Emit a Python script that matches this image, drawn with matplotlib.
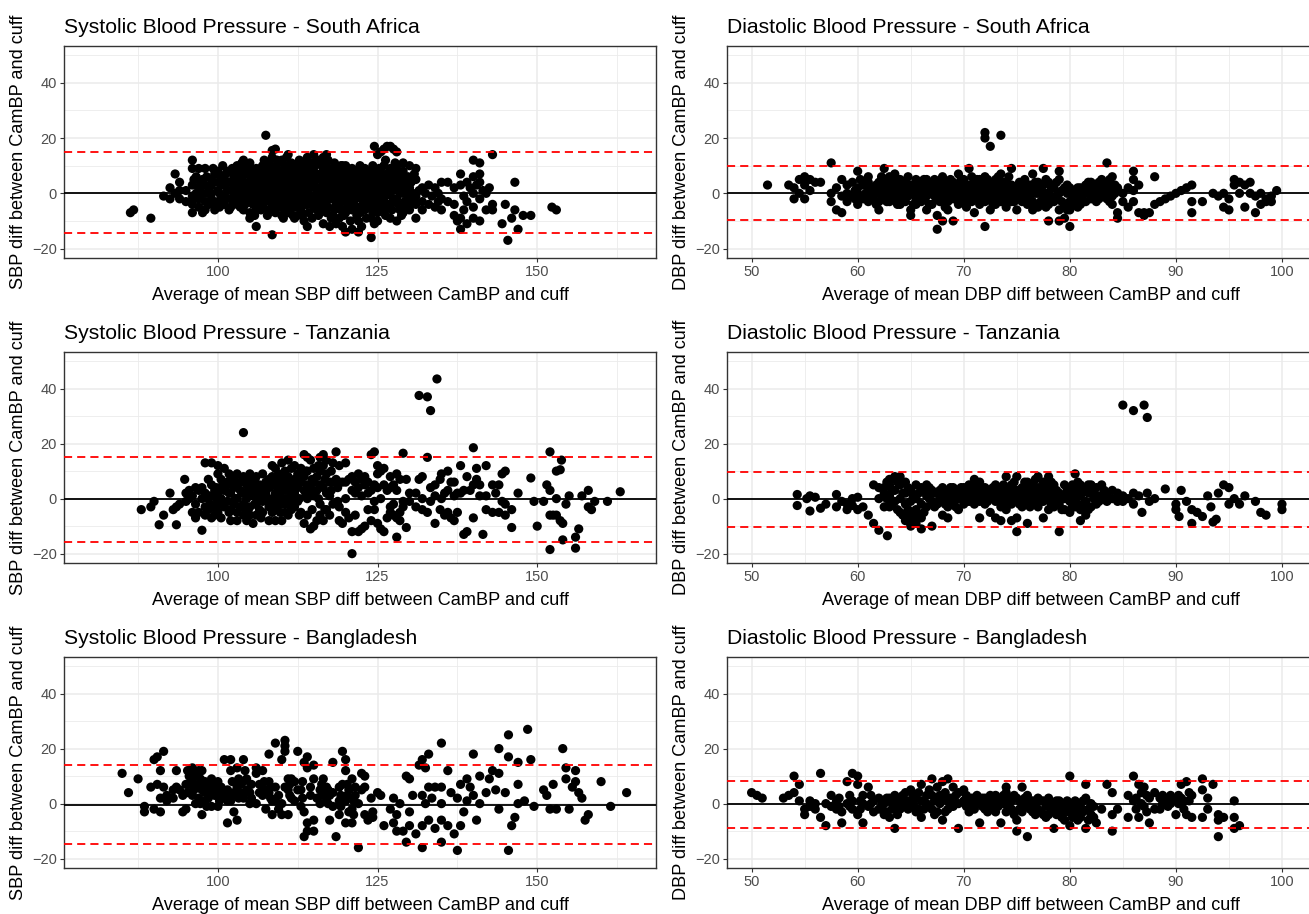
import numpy as np
import matplotlib
matplotlib.use("Agg")
import matplotlib.pyplot as plt

# Bland-Altman style panels: (average, [differences at that average])
sbp_sa = [
    (86.3, [-7]), (86.8, [-6]), (89.5, [-9]), (91.5, [-1]), (92.5, [2, -2]), (93.3, [7, 0]), (94, [1, -2, 4]), (95, [-3, 1]),
    (96, [12, 9, 3, -1, -4, -7]), (96.6, [6, 0]), (97, [9, 2, -2, -5]), (97.6, [5, -7, 0]), (98, [9, 3, -3, -6]), (98.6, [1, -4]),
    (99, [3, 0, -2, 5]), (99.5, [-6, 7]), (100, [8, 4, 1, -3]), (100.5, [6, -2]), (101, [3, -1, 5, -4]), (101.5, [1, 8]),
    (102, [8, 4, -2, -5]), (102.5, [0, 6, 2]), (103, [10, 6, 2, -1, -4]), (103.5, [3, -5, 8]), (104, [12, 9, 4, 0, -3, -6]),
    (104.5, [7, 1]), (105, [11, 7, 3, -2, -7, -9]), (105.5, [1, 5, -4]), (106, [9, 5, 1, -4, -12, -6]), (106.5, [3, -1, 7]),
    (107, [10, 6, 2, -1, -5]), (107.5, [21, 4, 8, 0, -3]), (108, [11, 7, 3, -2, -6]), (108.5, [-15, 15.5, 13, 1, 5, -4, 9]),
    (109, [16, 9, 4, 0, -3, -7]), (109.5, [2, 6, -1, 11]), (110, [12, 8, 3, -1, -4, -8]), (110.5, [1, 5, -6, 10]),
    (111, [14, 8, 4, 0, -3, -7]), (111.5, [2, 6, -2, 11]), (112, [10, 6, 2, -2, -5, -9]), (112.5, [0, 4, -8]),
    (113, [9, 5, 1, -3, -6]), (113.5, [3, 7, -1, -10]), (114, [13, 10, 4, 0, -4, -12]), (114.5, [2, 6, -2]),
    (115, [14, 8, 3, -1, -5]), (115.5, [5, 1, -6]), (116, [11, 7, 2, -2, -6]), (116.5, [4, 0, -11, 9, 13]),
    (117, [14, 10, 5, 1, -3, -7]), (117.5, [3, -12, 7]), (118, [9, 6, 2, -2, -8]), (118.5, [0, 4, -4, -11]),
    (119, [8, 4, 0, -4, -9]), (119.5, [2, 6, -2, -12, 10]), (120, [10, 6, 1, -3, -7, -14]), (120.5, [3, -1, 8]),
    (121, [9, 5, 0, -4, -6, -13]), (121.5, [2, 7, -2]), (122, [8, 4, 0, -5, -10, -14]), (122.5, [2, 6, -2, -12, 9]),
    (123, [9, 5, 1, -3, -6]), (123.5, [3, 7, -1]), (124, [8, 4, 0, -4, -9, -16]), (124.5, [17, 2, 6, -2, -11]),
    (125, [14, 6, 2, -3, -7, -10]), (125.5, [0, 4, 15]), (126, [16, 10, 5, 1, -3, -6]), (126.5, [3, 7, 17]),
    (127, [17, 9, 4, 0, -4, -9]), (127.5, [2, -2, 16]), (128, [15, 10, 6, 2, -2, -10]), (128.5, [0, 4, -6]),
    (129, [8, 4, 0, -5, -7, 11]), (129.5, [2, -3]), (130, [10, 2, -2, -6]), (130.5, [0, 5]), (131, [9, 5, -1, -4, -9]),
    (131.5, [1]), (132, [2, -3, -6]), (132.5, [0]), (133, [3, -4]), (133.5, [-1]), (134, [2, -5]), (134.5, [0, -3]),
    (135, [4, -6, -2]), (136, [4, -3]), (137, [-4, -8, 2]), (137.5, [-10]), (138, [7, 3, -9, -13]), (138.5, [-1, -6]),
    (139, [4, -3, -11]), (139.5, [2]), (140, [12, 6, -5, 0, -9]), (140.5, [3]), (141, [11, 7, -2, -10, 4]), (141.5, [1]),
    (142, [0, -6]), (142.5, [2]), (143, [14, -4, -6]), (144.5, [-11]), (145, [-4]), (145.4, [-17]), (146, [-9]),
    (146.5, [-6, 4]), (147, [-13]), (147.8, [-8]), (149, [-8]), (152.3, [-5]), (153, [-6]),
    (96.25, [5, -2]), (97.25, [4, -1]), (98.25, [0, 6]), (99.25, [-4, 9]),
    (100.25, [0, -5]), (100.75, [3, 10]), (101.25, [-2, 7]), (101.75, [4, -6]), (102.25, [1, 9]), (102.75, [-3, 4]),
    (103.25, [7, 0]), (103.75, [-2, 5, 11]), (104.25, [2, -4]), (104.75, [10, -1, 4]), (105.25, [8, 0]),
    (105.75, [-2, 3, -8]), (106.25, [6, -3]), (106.75, [1, 9, -6]), (107.25, [5, -2, 12]), (107.75, [1, -8, 6]),
    (108.25, [4, -1, 10]), (108.75, [2, 7, -5]), (109.25, [12, -2, 5]), (109.75, [-5, 3, 8]), (110.25, [6, 0, -9]),
    (110.75, [3, 13, -2]), (111.25, [-5, 6, 10]), (111.75, [4, -1, -8]), (112.25, [8, 1, -4]), (112.75, [12, 6, -2]),
    (113.25, [3, -8, 11]), (113.75, [0, 5, -4]), (114.25, [8, -2, -7]), (114.75, [11, 4, -9]), (115.25, [6, -3, 10]),
    (115.75, [2, -8, 12]), (116.25, [5, 0, -4]), (116.75, [7, -1, 2]), (117.25, [-5, 12, 8]), (117.75, [0, 5, -9]),
    (118.25, [4, -6, 11]), (118.75, [7, 1, -3]), (119.25, [-6, 3, 10]), (119.75, [0, 4, -8]), (120.25, [8, -1, -5]),
    (120.75, [5, -10, 1]), (121.25, [3, -3, 7]), (121.75, [-8, 5, 0]), (122.25, [10, 2, -7]), (122.75, [4, -4, 0]),
    (123.25, [7, -2, -9]), (123.75, [1, 5, -5]), (124.25, [10, 3, -7]), (124.75, [8, 0, -5]), (125.25, [4, -1, 9]),
    (125.75, [7, -5, 2]), (126.25, [12, -1, -8]), (126.75, [5, 0, -4]), (127.25, [1, 7, -6]), (127.75, [11, 4, -3]),
    (128.25, [8, -4, 1]), (128.75, [-8, 2, 6]), (129.25, [3, -3]), (129.75, [6, -1]), (130.25, [4, -4]), (130.75, [-2, 7]),
]

dbp_sa = [
    (51.5, [3]), (53.5, [3]), (54, [-2, 2]), (54.5, [5, 0]), (55, [6, 3, -2]), (55.5, [5, 1]), (56, [4]), (56.5, [4]),
    (57.5, [11, -3, 0]), (58, [-6, 2]), (58.5, [5, -7, -1]), (59, [3, 0, -3]), (59.5, [4, -1]), (60, [8, 2, -4, 0]),
    (60.5, [3, -1, -2]), (61, [6, 1, -3, 4]), (61.5, [2, -2, 0]), (62, [4, 0, -6, -3]), (62.5, [9, 5, 2, -2]),
    (63, [6, 3, 0, -3]), (63.5, [7, 4, 1, -2]), (64, [5, 2, -1, -4]), (64.5, [4, 1, -3, 0]), (65, [3, 0, -6, -8]),
    (65.5, [5, 2, -2, -4]), (66, [4, 1, -3]), (66.5, [5, 2, -1, -6]), (67, [3, 0, -4]), (67.5, [4, 1, -2, -13, -8]),
    (68, [6, 2, -1, -10]), (68.5, [3, 0, -3, -6]), (69, [4, 1, -2, -10]), (69.5, [7, 3, 0, -4]), (70, [5, 2, -1, -3]),
    (70.5, [9, 3, 0, -2]), (71, [4, 1, -2, -7]), (71.5, [5, 2, -1, -4]), (72, [22, 20, 6, 3, 0, -3, -12]),
    (72.5, [17, 4, 1, -2, -6]), (73, [5, 2, -1, -4]), (73.5, [21, 7, 3, 0, -3]), (74, [4, 1, -2, -5]),
    (74.5, [9, 3, 0, -3]), (75, [2, -1, -6]), (75.5, [3, 0, -3]), (76, [1, -2, -4]), (76.5, [7, 2, -3, -6]),
    (77, [4, 0, -5]), (77.5, [9, 3, -2]), (78, [4, 0, -4, -10]), (78.5, [2, -3]), (79, [8, 5, 0, -6, -10]),
    (79.5, [2, -4, -9]), (80, [2, -3, -12, -6]), (80.5, [1, -2]), (81, [2, -1, -4]), (81.5, [3, 0, -3]),
    (82, [4, 1, -2]), (82.5, [3, 0, -3]), (83, [5, 2, -1]), (83.5, [11, 4, 1, -2]), (84, [6, 2, -1, -4]),
    (84.5, [2, -7, -9]), (85, [0, -3]), (85.5, [2, -5]), (86, [8, 5, 1, -3]), (86.5, [3, -7]), (87, [-7, -8]),
    (87.5, [-7]), (88, [6, -4]), (88.5, [-3]), (89, [-2]), (89.5, [-1]), (90, [0]), (90.5, [1]), (91, [2]),
    (91.5, [3, -3, -7]), (92.5, [-3]), (93.5, [0]), (94, [-1]), (94.5, [-5, 0]), (95, [-6, -2]), (95.5, [5, 3]),
    (96, [4, 0]), (96.5, [3, -5]), (97, [4, 0]), (97.5, [-7, -1]), (98, [-4, 0]), (98.5, [-2, -3]), (99, [-1, -3]),
    (99.5, [1]),
    (59.75, [1, -2]), (60.25, [5, -1]), (60.75, [0, 4]), (61.25, [-1, 2]), (61.75, [3, -4]), (62.25, [6, 1]),
    (62.75, [0, -3, 4]), (63.25, [2, -1, 5]), (63.75, [3, 0, -4]), (64.25, [4, -2]), (64.75, [2, -1, 6]),
    (65.25, [1, -4]), (65.75, [3, 0]), (66.25, [2, -2, 5]), (66.75, [3, -4]), (67.25, [1, -1, 5]), (67.75, [2, -3]),
    (68.25, [4, 0, -5]), (68.75, [1, -2, 5]), (69.25, [3, -1]), (69.75, [1, -2, 5]), (70.25, [3, 0, -5]),
    (70.75, [1, -3, 6]), (71.25, [2, -1, 5]), (71.75, [3, 0, -3]), (72.25, [2, -1, 5]), (72.75, [3, 0, -4]),
    (73.25, [1, -2, 6]), (73.75, [4, 1, -2]), (74.25, [2, -1, 6]), (74.75, [1, -3]), (75.25, [4, 0]),
    (75.75, [2, -2, 5]), (76.25, [3, -1]), (76.75, [0, 4]), (77.25, [2, -3]), (77.75, [0, 5, -5]), (78.25, [2, -2]),
    (78.75, [-1, 4]), (79.25, [1, -3]), (79.75, [0, -6, 3]), (80.25, [-1, -4]), (80.75, [2, -5]), (81.25, [0, -3]),
    (81.75, [1, 4]), (82.25, [2, -1]), (82.75, [1, -2, 4]), (83.25, [3, 0]), (83.75, [2, -3, 5]), (84.25, [0, 3]),
]

sbp_tz = [
    (88, [-4]), (89.5, [-3]), (90, [-1]), (90.8, [-9.5]), (91.5, [-6]), (92.5, [2]), (93, [-4]), (93.5, [-9.5, -3]),
    (94, [-2]), (94.8, [7]), (95, [-1, 2]), (95.5, [3, 0]), (96, [-5, 1]), (96.5, [-7, -2, 4]), (97, [3, -5]),
    (97.5, [-11.5, 4, 0]), (98, [13, 2, -3, -6]), (98.5, [7, 0, -4]), (99, [13, 5, -3, -7]), (99.5, [3, 1, -6]),
    (100, [12, 9, -5, 2, -2]), (100.5, [7, 0, -7]), (101, [11, 3, -3]), (101.5, [6, -1, 5]), (102, [7, 2, -4, -8]),
    (102.5, [4, -2, 8]), (103, [9, 5, 0, -5, -8]), (103.5, [3, -3, 6]), (104, [24, 8, 2, -2, -6]),
    (104.5, [5, 0, -8, 7]), (105, [9, 3, -3, -6]), (105.5, [6, 1, -9, 4]), (106, [8, 2, -2, -6]), (106.5, [5, 0, -4]),
    (107, [9, 3, -1, -5]), (107.5, [6, 1, 2]), (108, [4, -3, -8, 7]), (108.5, [12, 8, 0, -5]),
    (109, [11, 6, 2, -3, -8]), (109.5, [4, -1, 9]), (110, [13, 7, 3, -2, -8]), (110.5, [10, 5, 0, -5]),
    (111, [14, 8, 3, -1, -6]), (111.5, [11, 6, 1, -4]), (112, [12, 7, 2, -3]), (112.5, [9, 4, -1]), (113, [11, 6, -5]),
    (113.5, [16, 8, 3, -9]), (114, [15, 10, 5, 0, -6]), (114.5, [14, 4, -11]), (115, [11, 6, 1, -10]),
    (115.5, [8, 3, -8]), (116, [15, 10, 5, -2, -6]), (116.5, [16, 12, 4, -8]), (117, [14, 9, 2, -4]),
    (117.5, [6, 1, -6]), (118, [13, 6, -2]), (118.5, [17, 7]), (119, [12, 6, -3, -8]), (119.5, [6, -9]),
    (120, [13, 6, 0, -5]), (120.5, [7, -7]), (121, [8, 3, -20, -12]), (121.5, [2, 6, -6]), (122, [9, 4, -12]),
    (122.5, [7, 1, -11]), (123, [8, 5, -10]), (123.5, [6, 2, -4]), (124, [16, 3, -8]), (124.5, [17, 5, -4, -1]),
    (125, [12, 9, 4, -9]), (125.5, [10, 0, -11]), (126, [11, 5, -12]), (126.5, [3, -7]), (127, [8, 4, -3, -5]),
    (127.5, [5, -2, -6]), (128, [9, 3, -14, -7]), (128.5, [7, -5, -8]), (129, [16.5, -1, -3]), (129.5, [7, -10.5]),
    (130, [-1, 2]), (131, [2, -3]), (131.5, [37.5, 7]), (132, [8, -4, 0]), (132.8, [15, 37, -5]), (133.3, [32, 4, -1]),
    (134, [5, -9, 1]), (134.3, [43.5]), (134.8, [7, -4]), (135, [9, 0]), (135.5, [-6, 2]), (136, [10, 3, -5]),
    (136.5, [-7, 6]), (137, [6, -8, 1]), (137.5, [2, -5]), (138, [12, 2]), (138.5, [-13, 3]), (139, [8, -12]),
    (139.5, [3]), (140, [18.5, 5, -7]), (140.5, [11, 7]), (141, [1, 5]), (141.5, [-13]), (142, [12, -4, 1]),
    (143, [5, -5]), (143.5, [2]), (144, [-5, 5]), (144.5, [9, -1]), (145, [10, -6, -2]), (146, [-4, -10.5]),
    (147, [2]), (149, [7.5]), (149.5, [-1]), (150, [-10]), (151, [-1]), (151.5, [5]), (152, [17, 3, -6, -18.5]),
    (152.5, [-6]), (153, [0, -6, 10]), (153.6, [10.5, -8]), (154, [-9, -15]), (153.8, [14]), (154.5, [-2]),
    (155, [1]), (156, [-14, -18]), (156.5, [-11]), (157, [1]), (158, [3, -3]), (158.5, [-4]), (159, [-1]),
    (161, [-1]), (163, [2.5]),
    (98.75, [1, -2]), (99.75, [4, 0, -4]), (100.75, [5, -2]), (101.75, [2, -5, 9]), (102.75, [0, 6]),
    (103.75, [2, -3]), (104.75, [3, -4]), (105.75, [2, -2, 7]), (106.75, [3, -7]), (107.75, [4, -1]),
    (108.75, [5, -2]), (109.75, [7, 1, -5]), (110.75, [3, -2, 8]), (111.75, [4, -1]), (112.75, [6, 0, -6]),
    (113.75, [10, 1]), (114.75, [7, 2, -4]), (115.75, [12, 0]), (116.75, [7, -4]), (117.75, [10, 3]), (118.75, [4, -1]),
]

dbp_tz = [
    (54.3, [1.5, -2.5]), (55.2, [0]), (55.5, [-4.5, 1]), (56, [0.5]), (56.5, [-3.5]), (57, [-2]), (58, [1.5, -3]),
    (58.5, [-1]), (59, [-4, -2]), (59.5, [-2.5, 0]), (60, [0.5, -4]), (60.5, [-3]), (61, [-6]), (61.5, [-9, 5]),
    (62, [-11.5, 0, 4]), (62.5, [4, -3, 2]), (62.8, [-13.5]), (63, [-3, 7, 1, 5]), (63.5, [8, 3, -1]),
    (64, [8, 5, 0, -5]), (64.5, [6, 2, -2, -8]), (65, [3, -1, -6, -10]), (65.5, [5, 0, -4, -9]),
    (66, [4, -2, -7, -11]), (66.5, [5, 1, -3]), (67, [3, -1, -10]), (67.5, [2, -2]), (68, [4, 0, -6]),
    (68.5, [2, -3, -7]), (69, [4, 1, -2]), (69.5, [3, 0, -4]), (70, [4, 1, -2]), (70.5, [5, 2, -1]),
    (71, [7, 3, 0, -2]), (71.5, [6, 2, -1, -7]), (72, [4, 1, -2]), (72.5, [3, 0, -5]), (73, [5, 2, -1, -7]),
    (73.5, [4, 1, -3, -8]), (74, [8, 3, 0, -4]), (74.5, [5, 1, -2, -8]), (75, [8, 3, 0, -7, -12]),
    (75.5, [4, 1, -3]), (76, [6, 2, -1, -9]), (76.5, [5, 1, -2]), (77, [8, 4, 0, -3]), (77.5, [6, 2, -1, -7]),
    (78, [8, 3, 0, -4]), (78.5, [5, 1, -3]), (79, [2, -2, -12]), (79.5, [5, 0, -4]), (80, [2, -1, -5]),
    (80.5, [9, 4, 0, -3]), (81, [5, 1, -4, -8]), (81.5, [3, -1, -6]), (82, [5, 2, -3]), (82.5, [4, 0, -2]),
    (83, [5, 1]), (83.5, [2, -1]), (84, [3, 0]), (84.5, [2, -1]), (85, [34, -1, 1]), (85.5, [0]), (86, [32, -2, 2]),
    (86.5, [1]), (86.8, [-5]), (87, [34]), (87.3, [29.5, 2]), (87.5, [-1]), (88, [0]), (89, [3.5]), (90, [-2, -4]),
    (90.3, [-6.5]), (90.5, [3]), (91, [-1]), (91.5, [-4, -9]), (92, [-5]), (92.5, [-6.5]), (93, [1]), (93.3, [-3]),
    (93.5, [-8.5]), (93.8, [-7.5]), (94, [2]), (94.5, [5]), (95, [4, -2]), (95.5, [0]), (96, [-2]), (96.5, [1]),
    (97.5, [-1]), (98, [-5]), (98.5, [-6]), (100, [-2, -4]),
    (62.75, [6, 0]), (63.25, [3, -2]), (63.75, [6, -4]), (64.25, [2, -6]), (64.75, [4, -4]), (65.25, [1, -8]),
    (65.75, [2, -6]), (66.25, [3, -5]), (66.75, [0, 4]), (67.25, [2, -3]), (67.75, [3, 0]), (68.25, [2, -2]),
    (68.75, [4, 0]), (69.25, [2, -3]), (69.75, [1, 4]), (70.25, [2, -1]), (70.75, [3, 0]), (71.25, [5, 1]),
    (71.75, [3, 0]), (72.25, [2, -1]), (72.75, [4, 1]), (73.25, [3, 0]), (73.75, [2, -1, 5]), (74.25, [1, -2]),
    (74.75, [3, 0, 6]), (75.25, [2, -2]), (75.75, [3, 0, 6]), (76.25, [1, -3, 4]), (76.75, [3, 0, 7]),
    (77.25, [2, -1]), (77.75, [4, 0]), (78.25, [2, -2, 6]), (78.75, [3, -1]), (79.25, [1, -4]), (79.75, [3, 0]),
    (80.25, [1, -3, 5]), (80.75, [2, -2, 6]), (81.25, [3, -2]), (81.75, [2, -4, 5]), (82.25, [0, 3]),
    (82.75, [1, -1]), (83.25, [3, 0]),
]

sbp_bd = [
    (85, [11]), (86, [4]), (87.5, [9]), (88.5, [-1, -3]), (89.5, [6]), (90, [16, -2]), (90.5, [17, 7]),
    (91, [-3, 2, 12]), (91.5, [19, 6]), (92, [3, 1]), (93, [2, 5]), (93.5, [12, 6]), (94, [5]), (94.5, [3, -3]),
    (95, [-2, 7]), (95.5, [10, 7]), (96, [13, 8, 3]), (96.5, [11, 0, 6]), (97, [7, 2, 12]), (97.5, [12, -4, 5]),
    (98, [8, 1, 4]), (98.5, [5, 2]), (99, [9, -1, 6]), (99.5, [3, 7]), (100, [8, -1, 3]), (100.5, [2, 6]),
    (101, [16, 3]), (101.5, [-7, 5, 1]), (102, [16, 12, 1]), (102.5, [-3, 4]), (103, [13, -6, 6]), (103.5, [4, 7]),
    (104, [16, 8, 2]), (104.5, [9, 5]), (105, [4, 0]), (106, [13, 11, 0]), (106.5, [7, 4]), (107, [12, 3]),
    (107.5, [-2, 5]), (108, [18, 8, 4]), (108.5, [-4, 1]), (109, [22, 6, 1]), (109.5, [3, -2]), (110, [16, 0, -4]),
    (110.5, [23, 21, 19, 6]), (111, [9, 5, -4]), (111.5, [2, 9]), (112, [8, 1]), (112.5, [19, 5]), (113, [5, -1]),
    (113.5, [15, -3, -12]), (114, [-10, -7, 17, 13]), (114.5, [6, 3]), (115, [14, 9, -6, -10]), (115.5, [2]),
    (116, [5, 0]), (116.5, [9, 4]), (117, [6, 2]), (117.5, [-6, 3]), (118, [15, 4, -1]), (118.5, [-12]),
    (119, [6, -4, 1]), (119.5, [19, 7]), (120, [16, 12, 1, -7]), (120.5, [5, -3]), (121, [9, -2, -7]),
    (121.5, [3, 6]), (122, [-16, 0]), (122.5, [11, 5]), (123, [10, 6, -4]), (123.5, [-6]), (124, [2]), (125, [4]),
    (125.5, [3]), (126, [-8]), (127, [-2]), (127.5, [2, -7]), (128, [-10, -4]), (128.5, [0]), (129, [-10]),
    (129.5, [10, -14]), (130, [9, -3, -8]), (130.5, [3]), (131, [-11]), (131.5, [14]), (132, [16, 3, -8, -16]),
    (132.5, [0, 13]), (133, [18, 6, -6]), (133.5, [2]), (134, [-9, 6]), (135, [22, 6, 0, -6, -14]), (136, [12, -8]),
    (136.5, [4]), (137, [-11]), (137.5, [-17, 2]), (138, [7, -8]), (138.5, [-3]), (139, [9, 1]), (139.5, [6]),
    (140, [18, 3]), (140.5, [-6]), (141, [10, 0]), (142, [4]), (142.5, [9]), (143, [12]), (143.5, [5]),
    (144, [20, 11, -2]), (145, [4]), (145.5, [25, 17, -17]), (146, [-8]), (146.5, [-5]), (147, [7, 15, 0]),
    (148, [1]), (148.5, [27]), (149, [16]), (149.5, [-1]), (151, [5]), (151.5, [3]), (152, [-2]), (152.5, [7]),
    (153, [-2]), (154, [20]), (154.5, [13, 9]), (155, [-2]), (155.5, [6]), (156, [8, 12]), (156.5, [4]), (157, [2]),
    (157.5, [-6]), (158, [-4]), (160, [8]), (161.5, [-1]), (164, [4]),
    (95.25, [4, 12]), (96.25, [10, 5]), (97.25, [9, 0]), (98.25, [6, -1]), (99.25, [4, 7]), (100.25, [5, 1]),
    (102.25, [8, 3]), (103.25, [9, 2]), (104.25, [4, 12]), (105.25, [7, 2]), (107.25, [8, 5]), (108.25, [6, 2]),
    (111.25, [7, 3]), (113.25, [8, 2]), (116.25, [7, 3]), (117.25, [5, 0]), (119.25, [3, -1]), (120.25, [7, 3]),
    (121.25, [1, -4]), (124.25, [-3, -5]),
]

dbp_bd = [
    (50, [4]), (50.5, [3]), (51, [2]), (53, [2]), (53.5, [3]), (54, [10, 4]), (54.5, [7, 1]), (55, [-4, -2]),
    (55.5, [-1, 1]), (56, [-2, 0]), (56.5, [11, -5]), (57, [-8, 0]), (57.5, [3, -1]), (58, [-2, 1]), (58.5, [-7, -3]),
    (59, [8, 0]), (59.5, [11, 1, -2]), (60, [10, 7, -4]), (60.5, [-7, 3, 0]), (61, [6, -1]), (61.5, [1, -3]),
    (62, [-2, 2]), (62.5, [0, -4]), (63, [-5, 2]), (63.5, [-9, 3, -1]), (64, [1, -2]), (64.5, [4, 0]), (65, [5, -1]),
    (65.5, [2, -3]), (66, [7, -5, 1]), (66.5, [0, 3]), (67, [9, 3, -2]), (67.5, [6, -3, 1]), (68, [8, -6, 2]),
    (68.5, [9, 1, -2]), (69, [6, -1]), (69.5, [-9, 4, 0]), (70, [5, 1]), (70.5, [0, -3]), (71, [-2, 2]),
    (71.5, [-7, 1]), (72, [2, -2]), (72.5, [3, 0]), (73, [0, 3, -3]), (73.5, [-7, 2]), (74, [6, 4, 0, -3]),
    (74.5, [1, -2]), (75, [-10, -6, 2]), (75.5, [6, 0, -3]), (76, [-12, 0, 3]), (76.5, [-3, 1]), (77, [2, -2]),
    (77.5, [-4, 1]), (78, [-4, 2]), (78.5, [-9, -1]), (79, [1, -3]), (79.5, [-6, 0]), (80, [10, -8, -2]),
    (80.5, [-3, 1]), (81, [-5, -1]), (81.5, [7, -9, 2]), (82, [-4, 0]), (82.5, [-7]), (83, [-2]), (83.5, [7]),
    (84, [4, -10, -4]), (84.5, [-2]), (85.5, [3, -5]), (86, [10, 1]), (86.5, [7, -5]), (87, [6, -1]), (87.5, [-7, 2]),
    (88, [4, -2]), (88.5, [-2, 2]), (89, [1]), (89.5, [3, 0]), (90, [-4, 1]), (90.5, [7, 2]), (91, [8, -4]),
    (91.5, [-5, 3]), (92.5, [9, 5, -5]), (93, [2, -2]), (93.5, [7]), (94, [-4, -6, -12]), (94.5, [-5]),
    (95.5, [1, -5, -9]), (96, [-8]),
    (58.25, [-1, 2]), (59.25, [-1, 3]), (60.25, [1, -2]), (61.25, [0, 3]), (62.25, [-1, 1]), (62.75, [-3, 2]),
    (63.25, [0, -2]), (63.75, [1, -4]), (64.25, [3, -1]), (64.75, [1, -2]), (65.25, [3, 0]), (65.75, [4, -2]),
    (66.25, [1, -2]), (66.75, [5, -1]), (67.25, [1, -4]), (67.75, [3, 0]), (68.25, [4, -3]), (68.75, [2, -1]),
    (69.25, [3, 0]), (70.25, [3, -1]), (70.75, [2, -2]), (71.25, [0, 3]), (71.75, [2, -1]), (72.25, [0, -3]),
    (72.75, [1, -2]), (73.25, [2, -1]), (73.75, [3, 0]), (74.25, [2, -1]), (74.75, [3, -4]), (75.25, [1, -2]),
    (75.75, [2, -1]), (76.25, [-2, 1]), (76.75, [0, -4]), (77.25, [1, -3]), (77.75, [-1, -5]), (78.25, [0, -3]),
    (78.75, [1, -4]), (79.25, [-1, -5]), (79.75, [-3, 1]), (80.25, [0, -5]), (80.75, [-2, -6]), (81.25, [-3, 1]),
    (81.75, [-2, -6]), (82.25, [-1, -5]), (86.25, [2, -2]), (86.75, [4, 0]), (87.25, [3, -3]), (88.75, [0, 3]),
    (89.25, [-1, 2]), (90.25, [0, 3]), (90.75, [-2, 1]), (91.25, [1, 4]),
]

# mean difference, upper and lower limits of agreement
lines_sbp_sa = [0.2, 15.1, -14.3]
lines_dbp_sa = [0.1, 10.0, -9.5]
lines_sbp_tz = [-0.2, 15.2, -15.7]
lines_dbp_tz = [-0.3, 9.6, -10.4]
lines_sbp_bd = [-0.4, 14.1, -14.6]
lines_dbp_bd = [-0.3, 8.3, -8.8]

titles = ["Systolic Blood Pressure - South Africa", "Diastolic Blood Pressure - South Africa",
          "Systolic Blood Pressure - Tanzania", "Diastolic Blood Pressure - Tanzania",
          "Systolic Blood Pressure - Bangladesh", "Diastolic Blood Pressure - Bangladesh"]

plt.rcParams['font.family'] = ['Liberation Sans', 'DejaVu Sans']

W, H = 1309, 914
fig = plt.figure(figsize=(W / 100, H / 100), dpi=100)

rows = [(46, 258), (352, 563), (657, 868)]
cols = [(64, 656), (727, 1335)]
panels = [(sbp_sa, lines_sbp_sa), (dbp_sa, lines_dbp_sa),
          (sbp_tz, lines_sbp_tz), (dbp_tz, lines_dbp_tz),
          (sbp_bd, lines_sbp_bd), (dbp_bd, lines_dbp_bd)]

for i, (data, lines) in enumerate(panels):
    r, c = divmod(i, 2)
    top, bot = rows[r]
    left, right = cols[c]
    ax = fig.add_axes([left / W, 1 - bot / H, (right - left) / W, (bot - top) / H])

    xs = [x for x, ys in data for _ in ys]
    ys = [y for _, yl in data for y in yl]
    ax.scatter(xs, ys, s=44, color='black', edgecolors='none', zorder=2)

    mean, upper, lower = lines
    ax.axhline(mean, color='black', lw=1.3, zorder=3)
    ax.axhline(upper, color='red', lw=1.3, ls=(0, (4.5, 2.8)), zorder=3)
    ax.axhline(lower, color='red', lw=1.3, ls=(0, (4.5, 2.8)), zorder=3)

    ax.set_ylim(-23.4, 53.3)
    ax.set_yticks([-20, 0, 20, 40])
    ax.set_yticks([-10, 10, 30, 50], minor=True)
    if c == 0:
        ax.set_xlim(75.9, 168.6)
        ax.set_xticks([100, 125, 150])
        ax.set_xticks([87.5, 112.5, 137.5, 162.5], minor=True)
        kind = "SBP"
    else:
        ax.set_xlim(47.68, 104.19)
        ax.set_xticks([50, 60, 70, 80, 90, 100])
        ax.set_xticks([55, 65, 75, 85, 95, 105], minor=True)
        kind = "DBP"

    ax.set_axisbelow(True)
    ax.grid(which='major', color='#EBEBEB', lw=1.1)
    ax.grid(which='minor', color='#EBEBEB', lw=0.6)
    ax.tick_params(which='major', length=3, width=0.8, color='#333333', labelsize=10.5,
                   labelcolor='#4D4D4D', pad=2)
    ax.tick_params(which='minor', length=0)
    for sp in ax.spines.values():
        sp.set_color('#333333')
        sp.set_linewidth(1.0)

    w_px = right - left
    h_px = bot - top
    ax.set_xlabel(f"Average of mean {kind} diff between CamBP and cuff", fontsize=13.1, color='black')
    ax.xaxis.set_label_coords(0.5, -(287 - 258) / h_px)
    ax.set_ylabel(f"{kind} diff between CamBP and cuff", fontsize=13.1, color='black')
    ax.yaxis.set_label_coords(-37 / w_px, 0.5)
    ax.text(0, 1 + 13 / h_px, titles[i], transform=ax.transAxes, ha='left', va='baseline',
            fontsize=15.2, color='black')

fig.savefig("out.png", dpi=100)
